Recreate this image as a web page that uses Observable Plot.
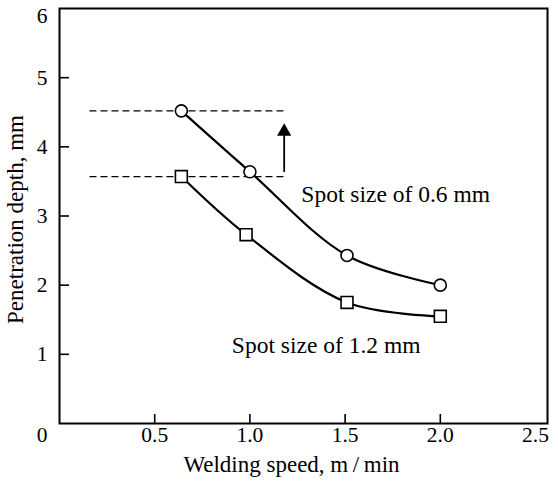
<!DOCTYPE html>
<html><head><meta charset="utf-8">
<script src="https://cdn.jsdelivr.net/npm/d3@7"></script>
<script src="https://cdn.jsdelivr.net/npm/@observablehq/plot@0.6"></script>
<style>body{margin:0;background:#fff}</style>
</head><body><div id="chart"></div>
<script>
// Series: spot size 0.6 mm (circles) and 1.2 mm (squares)
const speed06 = [0.64, 1.0, 1.51, 2.0];
const depth06 = [4.52, 3.64, 2.43, 2.0];
const speed12 = [0.64, 0.98, 1.51, 2.0];
const depth12 = [3.57, 2.73, 1.75, 1.55];
// Reference (dashed) levels and the arrow between them
const dashLevels = [4.52, 3.57];
const dashFrom = 0.16, dashTo = 1.2;
const arrowX = 1.18, arrowFrom = 3.63, arrowTo = 4.22;
// Ticks
const xTickLabels = [0.5, 1.0, 1.5, 2.0, 2.5];
const xTickMarks = [0.5, 1.0, 1.5, 2.0];
const yTickLabels = [1, 2, 3, 4, 5];
const yTickMarks = [1, 2, 3, 4, 5];
// Annotations
const label06 = {text: "Spot size of 0.6 mm", x: 1.27, y: 3.31};
const label12 = {text: "Spot size of 1.2 mm", x: 0.905, y: 1.13};
const xTitle = "Welding speed, m\u2009/\u2009min";
const yTitle = "Penetration depth, mm";

const rows06 = speed06.map((s, i) => ({speed: s, depth: depth06[i]}));
const rows12 = speed12.map((s, i) => ({speed: s, depth: depth12[i]}));

const W = 558, H = 483, mL = 59, mR = 11, mT = 8, mB = 60;
const plotW = W - mL - mR, plotH = H - mT - mB;
const font = "'Liberation Serif', 'Times New Roman', serif";
const tickFont = 21.5, noteFont = 23.5, titleFont = 23;

const chart = Plot.plot({
  width: W, height: H,
  marginLeft: mL, marginRight: mR, marginTop: mT, marginBottom: mB,
  style: {fontFamily: font, fontSize: tickFont + "px", color: "black", background: "white"},
  x: {domain: [0, 2.563]},
  y: {domain: [0, 6]},
  marks: [
    Plot.frame({stroke: "black", strokeWidth: 2}),
    Plot.ruleY(yTickMarks, {y: d => d, insetRight: plotW - 10, strokeWidth: 1.6}),
    Plot.ruleX(xTickMarks, {x: d => d, insetTop: plotH - 9, strokeWidth: 1.6}),
    Plot.axisX(xTickLabels, {tickSize: 0, tickPadding: 3, tickFormat: d3.format(".1f"), label: null, fontSize: tickFont}),
    Plot.axisY(yTickLabels, {tickSize: 0, tickPadding: 12, tickFormat: d => String(d), label: null, fontSize: tickFont}),
    Plot.text(["6"], {x: () => 0, y: () => 6, text: d => d, textAnchor: "end", dx: -12, dy: 7.5, fontSize: tickFont}),
    Plot.text(["0"], {x: () => 0, y: () => 0, text: d => d, textAnchor: "end", dx: -12, dy: 12, fontSize: tickFont}),
    Plot.ruleY(dashLevels, {y: d => d, x1: dashFrom, x2: dashTo, strokeDasharray: "7,4", strokeWidth: 1.4}),
    Plot.line(rows06, {x: "speed", y: "depth", curve: "catmull-rom", strokeWidth: 2.2}),
    Plot.line(rows12, {x: "speed", y: "depth", curve: "catmull-rom", strokeWidth: 2.2}),
    Plot.dot(rows06, {x: "speed", y: "depth", symbol: "circle", r: 6, fill: "white", stroke: "black", strokeWidth: 1.6}),
    Plot.dot(rows12, {x: "speed", y: "depth", symbol: "square", r: 6.7, fill: "white", stroke: "black", strokeWidth: 1.6}),
    Plot.ruleX([arrowX], {x: d => d, y1: arrowFrom, y2: arrowTo, strokeWidth: 1.8}),
    Plot.dot([arrowTo], {x: () => arrowX, y: d => d, symbol: "triangle", r: 5.3, fill: "black", stroke: "none"}),
    Plot.text([label06], {x: "x", y: "y", text: "text", textAnchor: "start", fontSize: noteFont}),
    Plot.text([label12], {x: "x", y: "y", text: "text", textAnchor: "start", fontSize: noteFont}),
    Plot.text([xTitle], {frameAnchor: "bottom", text: d => d, textAnchor: "middle", dx: -12, dy: 48, lineAnchor: "bottom", fontSize: titleFont}),
    Plot.text([yTitle], {frameAnchor: "left", text: d => d, textAnchor: "middle", lineAnchor: "middle", rotate: -90, dx: -44, dy: 3.5, fontSize: titleFont})
  ]
});
document.getElementById("chart").appendChild(chart);
</script>
</body></html>
